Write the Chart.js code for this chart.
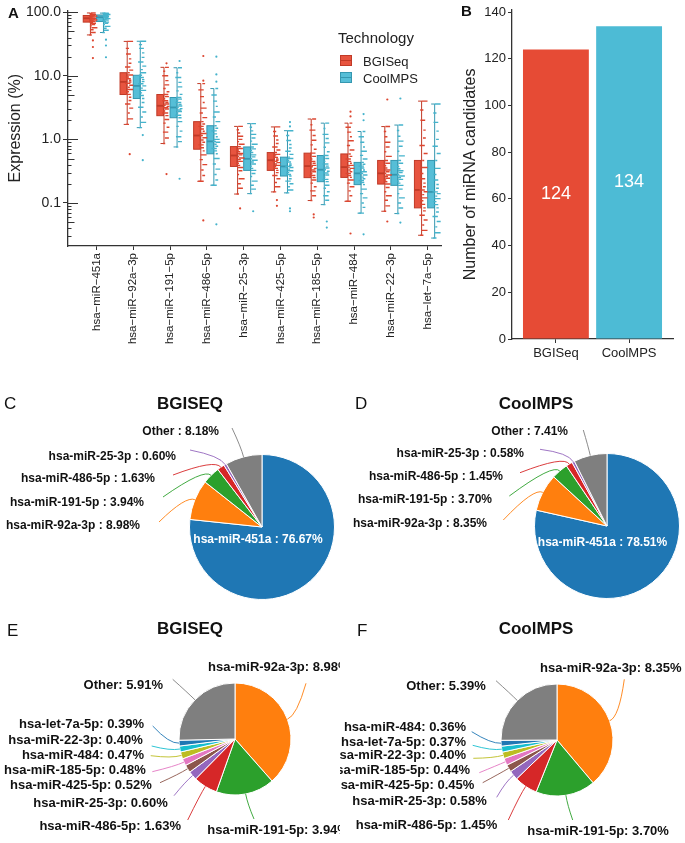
<!DOCTYPE html>
<html>
<head>
<meta charset="utf-8">
<script src="https://cdn.jsdelivr.net/npm/chart.js@4.4.1/dist/chart.umd.min.js"></script>
<style>
  body { margin: 0; background: #fff; }
  #fig { position: relative; width: 685px; height: 843px; background: #fff; overflow: hidden;
         font-family: "Liberation Sans", Arial, sans-serif; color: #222; }
  #fig canvas { position: absolute; }
  .t { position: absolute; white-space: nowrap; line-height: 1; }
</style>
</head>
<body>
<div id="fig">
  <canvas id="boxChart" width="450" height="360" style="left:0;top:0"></canvas>
  <canvas id="barChart" width="245" height="370" style="left:440px;top:0"></canvas>
  <canvas id="pieC" width="340" height="230" style="left:0;top:380px"></canvas>
  <canvas id="pieD" width="345" height="230" style="left:340px;top:380px"></canvas>
  <canvas id="pieE" width="340" height="233" style="left:0;top:610px"></canvas>
  <canvas id="pieF" width="345" height="233" style="left:340px;top:610px"></canvas>
</div>
<script>
// ---------- panel A data ----------
const mirnas = ['hsa−miR−451a', 'hsa−miR−92a−3p', 'hsa−miR−191−5p', 'hsa−miR−486−5p', 'hsa−miR−25−3p',
                'hsa−miR−425−5p', 'hsa−miR−185−5p', 'hsa−miR−484', 'hsa−miR−22−3p', 'hsa−let−7a−5p'];
const technologies = ['BGISeq', 'CoolMPS'];
const yTicksA = [0.1, 1, 10, 100];

// box stats: [lower whisker, q1, median, q3, upper whisker]
const bgiStats = [
  [44, 70, 80.5, 89, 97.5], [1.72, 5.08, 8.03, 11.2, 34.8], [0.86, 2.36, 3.38, 5.08, 13.6],
  [0.219, 0.70, 1.15, 1.90, 7.55], [0.138, 0.375, 0.557, 0.77, 1.60], [0.149, 0.325, 0.47, 0.62, 1.57],
  [0.109, 0.25, 0.38, 0.607, 2.09], [0.106, 0.252, 0.366, 0.59, 1.8], [0.074, 0.198, 0.292, 0.466, 1.59],
  [0.031, 0.0836, 0.16, 0.466, 4.0]
];
const coolStats = [
  [48, 71.5, 83.5, 90.7, 97], [1.53, 4.4, 6.95, 10.2, 35], [0.76, 2.19, 3.18, 4.56, 13.4],
  [0.19, 0.593, 0.93, 1.64, 6.3], [0.14, 0.325, 0.495, 0.76, 1.77], [0.144, 0.265, 0.375, 0.525, 1.37],
  [0.094, 0.216, 0.333, 0.557, 1.8], [0.069, 0.194, 0.292, 0.434, 1.33], [0.068, 0.189, 0.278, 0.466, 1.68],
  [0.028, 0.0836, 0.149, 0.466, 3.6]
];

// per-sample expression (jittered strip)
const bgiSamples = [
  [44, 48, 53, 57, 61, 64, 67, 69, 70.5, 72, 74, 75.5, 77, 78.5, 80, 81, 82.5, 84, 85.5, 87, 88.5, 90, 91.5, 93, 95, 97.5],
  [1.72, 2.1, 2.6, 3.1, 3.6, 4.1, 4.6, 5.1, 5.6, 6.1, 6.6, 7.1, 7.6, 8.0, 8.5, 9.0, 9.6, 10.3, 11.2, 12.3, 13.8, 15.8, 18.5, 22, 27, 34.8],
  [0.86, 1.05, 1.3, 1.55, 1.8, 2.05, 2.36, 2.6, 2.8, 3.0, 3.15, 3.3, 3.45, 3.6, 3.8, 4.05, 4.35, 4.7, 5.08, 5.6, 6.3, 7.2, 8.4, 10, 11.8, 13.6],
  [0.219, 0.27, 0.33, 0.4, 0.48, 0.57, 0.66, 0.74, 0.82, 0.9, 0.98, 1.06, 1.15, 1.24, 1.34, 1.46, 1.6, 1.75, 1.9, 2.2, 2.6, 3.1, 3.8, 4.7, 6, 7.55],
  [0.138, 0.17, 0.2, 0.24, 0.28, 0.32, 0.36, 0.39, 0.42, 0.45, 0.48, 0.51, 0.54, 0.57, 0.6, 0.64, 0.68, 0.72, 0.77, 0.84, 0.92, 1.0, 1.12, 1.26, 1.42, 1.6],
  [0.149, 0.18, 0.21, 0.24, 0.27, 0.3, 0.325, 0.35, 0.37, 0.39, 0.41, 0.43, 0.45, 0.47, 0.49, 0.52, 0.55, 0.58, 0.62, 0.68, 0.76, 0.86, 0.98, 1.13, 1.33, 1.57],
  [0.109, 0.13, 0.155, 0.18, 0.205, 0.23, 0.25, 0.27, 0.29, 0.31, 0.33, 0.35, 0.37, 0.39, 0.42, 0.45, 0.49, 0.54, 0.607, 0.7, 0.82, 0.97, 1.15, 1.4, 1.7, 2.09],
  [0.106, 0.13, 0.155, 0.18, 0.205, 0.23, 0.252, 0.27, 0.29, 0.31, 0.33, 0.35, 0.366, 0.39, 0.42, 0.45, 0.49, 0.54, 0.59, 0.68, 0.8, 0.95, 1.1, 1.3, 1.55, 1.8],
  [0.074, 0.09, 0.11, 0.13, 0.15, 0.175, 0.198, 0.215, 0.23, 0.245, 0.26, 0.275, 0.292, 0.31, 0.33, 0.355, 0.385, 0.42, 0.466, 0.54, 0.64, 0.76, 0.9, 1.1, 1.33, 1.59],
  [0.031, 0.037, 0.045, 0.054, 0.064, 0.075, 0.0836, 0.095, 0.108, 0.12, 0.135, 0.15, 0.16, 0.18, 0.205, 0.24, 0.29, 0.36, 0.466, 0.6, 0.8, 1.05, 1.4, 2.0, 2.9, 4.0]
];
const coolSamples = [
  [48, 52, 56, 60, 64, 67, 70, 71.5, 73.5, 75.5, 77.5, 79.5, 81.5, 83.5, 85, 86.5, 88, 89.5, 90.7, 92, 93, 94, 95, 96, 96.5, 97],
  [1.53, 1.85, 2.25, 2.7, 3.2, 3.8, 4.4, 4.9, 5.4, 5.9, 6.4, 6.95, 7.5, 8.1, 8.7, 9.4, 10.2, 11.2, 12.5, 14.2, 16.5, 19.5, 23, 27, 31, 35],
  [0.76, 0.92, 1.1, 1.35, 1.6, 1.9, 2.19, 2.4, 2.6, 2.75, 2.9, 3.05, 3.18, 3.35, 3.55, 3.8, 4.1, 4.3, 4.56, 5.1, 5.8, 6.7, 7.9, 9.4, 11.2, 13.4],
  [0.19, 0.23, 0.28, 0.34, 0.41, 0.5, 0.593, 0.66, 0.72, 0.78, 0.84, 0.9, 0.93, 1.0, 1.1, 1.22, 1.36, 1.5, 1.64, 1.9, 2.25, 2.7, 3.3, 4.0, 5.0, 6.3],
  [0.14, 0.165, 0.19, 0.22, 0.26, 0.29, 0.325, 0.35, 0.38, 0.41, 0.44, 0.47, 0.495, 0.53, 0.57, 0.62, 0.67, 0.71, 0.76, 0.84, 0.94, 1.05, 1.2, 1.36, 1.55, 1.77],
  [0.144, 0.16, 0.18, 0.2, 0.22, 0.24, 0.265, 0.28, 0.3, 0.32, 0.34, 0.36, 0.375, 0.39, 0.41, 0.44, 0.47, 0.5, 0.525, 0.58, 0.65, 0.73, 0.83, 0.96, 1.15, 1.37],
  [0.094, 0.11, 0.13, 0.15, 0.17, 0.19, 0.216, 0.235, 0.255, 0.275, 0.295, 0.315, 0.333, 0.355, 0.38, 0.41, 0.45, 0.5, 0.557, 0.64, 0.75, 0.88, 1.03, 1.2, 1.48, 1.8],
  [0.069, 0.085, 0.1, 0.12, 0.14, 0.165, 0.194, 0.21, 0.225, 0.24, 0.255, 0.275, 0.292, 0.31, 0.33, 0.355, 0.38, 0.405, 0.434, 0.49, 0.56, 0.65, 0.76, 0.9, 1.1, 1.33],
  [0.068, 0.083, 0.1, 0.12, 0.14, 0.165, 0.189, 0.205, 0.22, 0.235, 0.25, 0.265, 0.278, 0.3, 0.32, 0.345, 0.375, 0.42, 0.466, 0.55, 0.65, 0.78, 0.94, 1.12, 1.38, 1.68],
  [0.028, 0.034, 0.042, 0.051, 0.061, 0.072, 0.0836, 0.094, 0.105, 0.117, 0.128, 0.14, 0.149, 0.17, 0.195, 0.23, 0.28, 0.35, 0.466, 0.6, 0.78, 1.0, 1.35, 1.85, 2.6, 3.6]
];
const bgiOutliers = [[36, 28.4, 19], [0.585], [15.7, 0.284], [8.4, 20.5, 0.053], [0.082], [0.111, 0.09],
                     [0.066, 0.059], [2.3, 2.73, 0.033], [4.24, 0.051], []];
const coolOutliers = [[37, 30, 19.6], [1.17, 0.47], [17.1, 0.24], [8.1, 10.5, 20, 0.046], [0.074],
                      [1.6, 1.87, 0.082, 0.074], [0.051, 0.041], [2.0, 2.5, 0.032], [4.4, 0.049], []];

// ---------- panel B data ----------
const candidates = [124, 134];
const yTicksB = [0, 20, 40, 60, 80, 100, 120, 140];

// ---------- panels C-F data ----------
const topLabels = ['hsa-miR-451a', 'hsa-miR-92a-3p', 'hsa-miR-191-5p', 'hsa-miR-486-5p', 'hsa-miR-25-3p', 'Other'];
const bgiTop = [76.67, 8.98, 3.94, 1.63, 0.60, 8.18];
const coolTop = [78.51, 8.35, 3.70, 1.45, 0.58, 7.41];

const bgiRestLabels = ['hsa-miR-92a-3p', 'hsa-miR-191-5p', 'hsa-miR-486-5p', 'hsa-miR-25-3p', 'hsa-miR-425-5p',
                       'hsa-miR-185-5p', 'hsa-miR-484', 'hsa-miR-22-3p', 'hsa-let-7a-5p', 'Other'];
const bgiRest = [8.98, 3.94, 1.63, 0.60, 0.52, 0.48, 0.47, 0.40, 0.39, 5.91];
const coolRestLabels = ['hsa-miR-92a-3p', 'hsa-miR-191-5p', 'hsa-miR-486-5p', 'hsa-miR-25-3p', 'hsa-miR-425-5p',
                        'hsa-miR-185-5p', 'hsa-miR-22-3p', 'hsa-let-7a-5p', 'hsa-miR-484', 'Other'];
const coolRest = [8.35, 3.70, 1.45, 0.58, 0.45, 0.44, 0.40, 0.37, 0.36, 5.39];

// ---------- styles ----------
const RED = '#E64B35', BLUE = '#4DBBD5';
const tab = { blue: '#1f77b4', orange: '#ff7f0e', green: '#2ca02c', red: '#d62728', purple: '#9467bd',
              brown: '#8c564b', pink: '#e377c2', gray: '#7f7f7f', olive: '#bcbd22', cyan: '#17becf' };
const topColors = [tab.blue, tab.orange, tab.green, tab.red, tab.purple, tab.gray];
const restColors = [tab.orange, tab.green, tab.red, tab.purple, tab.brown, tab.pink, tab.olive, tab.cyan, tab.blue, tab.gray];

Chart.defaults.font.family = '"Liberation Sans", Arial, sans-serif';
Chart.defaults.color = '#333';

const fig = document.getElementById('fig');

function addText(txt, x, y, size, weight, align, color) {
  const d = document.createElement('div');
  d.className = 't';
  d.textContent = txt;
  d.style.left = x + 'px';
  d.style.top = y + 'px';
  d.style.fontSize = size + 'px';
  d.style.fontWeight = weight;
  if (color) d.style.color = color;
  const tx = align === 'center' ? '-50%' : align === 'right' ? '-100%' : '0';
  d.style.transform = `translate(${tx}, -50%)`;
  fig.appendChild(d);
}

function legendIcon(x, y, fill, stroke) {
  const d = document.createElement('div');
  d.style.cssText = `position:absolute;left:${x}px;top:${y}px;width:12px;height:11px;background:${fill};border:1px solid ${stroke};box-sizing:border-box`;
  const m = document.createElement('div');
  m.style.cssText = `position:absolute;left:0;right:0;top:4px;height:1px;background:${stroke}`;
  d.appendChild(m);
  fig.appendChild(d);
}

// ================= Panel A =================
// x layout inside one category (in category units); one category is ~36.8 px wide
const PX_PER_CAT = 36.8;
const groups = [
  { stats: bgiStats, box: [-0.36, -0.18], whisker: -0.165,
    fill: 'rgba(230,75,53,0.95)', stroke: '#c13a27', point: '#dd4630' },
  { stats: coolStats, box: [0.0, 0.185], whisker: 0.19,
    fill: 'rgba(77,187,213,0.95)', stroke: '#3597b0', point: '#45b3cc' }
];
// jitter look: dash half-lengths and small shifts (px), cycled
const dashHalf = [1.2, 2.4, 1.6, 3.0, 1.0, 2.0, 2.7, 1.4];
const dashShift = [-1.0, 0.5, 0.0, 1.0, -0.5, 0.8, 0.2, -0.2];

function stripData(samples, g) {
  const pts = [];
  samples.forEach((vals, i) => vals.forEach((v, k) => {
    const h = dashHalf[k % dashHalf.length], s = dashShift[k % dashShift.length];
    pts.push({ x: i + 1 + g.whisker + (s + h) / PX_PER_CAT, y: v });
  }));
  return pts;
}
function outlierData(outs, g) {
  const pts = [];
  outs.forEach((vals, i) => vals.forEach(v => pts.push({ x: i + 1 + g.whisker + 2.5 / PX_PER_CAT, y: v })));
  return pts;
}

const boxPlugin = {
  id: 'boxes',
  beforeDatasetsDraw(chart) {
    const { ctx, scales: { x, y } } = chart;
    ctx.save();
    groups.forEach(g => {
      g.stats.forEach((s, i) => {
        const c = i + 1;
        const xl = x.getPixelForValue(c + g.box[0]);
        const xr = x.getPixelForValue(c + g.box[1]);
        const xw = x.getPixelForValue(c + g.whisker);
        const [lo, q1, med, q3, hi] = s.map(v => y.getPixelForValue(v));
        ctx.strokeStyle = g.stroke;
        ctx.lineWidth = 1;
        ctx.beginPath();
        ctx.moveTo(xw, lo); ctx.lineTo(xw, hi);
        ctx.moveTo(xw - 3.5, hi); ctx.lineTo(xw, hi);
        ctx.moveTo(xw - 3.5, lo); ctx.lineTo(xw, lo);
        ctx.stroke();
        ctx.fillStyle = g.fill;
        ctx.fillRect(xl, q3, xr - xl, q1 - q3);
        ctx.strokeRect(xl, q3, xr - xl, q1 - q3);
        ctx.lineWidth = 1.8;
        ctx.beginPath();
        ctx.moveTo(xl, med); ctx.lineTo(xr, med);
        ctx.stroke();
      });
    });
    ctx.restore();
  }
};

const logTickPlugin = {
  id: 'logticks',
  afterDraw(chart) {
    const { ctx, chartArea, scales: { y } } = chart;
    ctx.save();
    ctx.strokeStyle = '#333';
    ctx.lineWidth = 1;
    for (let e = -2; e <= 2; e++) {
      for (let m = 1; m <= 9; m++) {
        const v = m * Math.pow(10, e);
        if (v < y.min || v > y.max) continue;
        const len = m === 1 ? 10 : m === 5 ? 6.5 : 3.5;
        const py = Math.round(y.getPixelForValue(v)) + 0.5;
        ctx.beginPath();
        ctx.moveTo(chartArea.left, py);
        ctx.lineTo(chartArea.left + len, py);
        ctx.stroke();
      }
    }
    ctx.restore();
  }
};

new Chart(document.getElementById('boxChart'), {
  type: 'scatter',
  data: {
    datasets: [
      ...groups.map((g, t) => ({
        label: technologies[t],
        data: stripData(t === 0 ? bgiSamples : coolSamples, g),
        pointStyle: 'line',
        pointRadius: c => dashHalf[c.dataIndex % dashHalf.length],
        borderColor: g.point,
        borderWidth: 1.4
      })),
      ...groups.map((g, t) => ({
        label: technologies[t] + ' outliers',
        data: outlierData(t === 0 ? bgiOutliers : coolOutliers, g),
        pointRadius: 1.1,
        backgroundColor: g.point,
        borderWidth: 0
      }))
    ]
  },
  options: {
    responsive: false,
    animation: false,
    devicePixelRatio: 1,
    layout: { padding: { top: 9, right: 9, left: 0, bottom: 0 } },
    plugins: { legend: { display: false }, tooltip: { enabled: false } },
    scales: {
      x: {
        type: 'linear',
        min: 0.226,
        max: 10.362,
        afterBuildTicks: s => { s.ticks = mirnas.map((m, i) => ({ value: i + 1 })); },
        afterFit: s => { s.height = 114; },
        ticks: { callback: v => mirnas[v - 1], minRotation: 90, maxRotation: 90, autoSkip: false,
                 font: { size: 11.5 }, color: '#222', padding: 3 },
        grid: { drawOnChartArea: false, tickLength: 4, color: '#333' },
        border: { color: '#333', width: 1.3 }
      },
      y: {
        type: 'logarithmic',
        min: 0.021,
        max: 107,
        afterBuildTicks: s => { s.ticks = yTicksA.map(v => ({ value: v })); },
        afterFit: s => { s.width = 68; },
        ticks: { callback: v => Number(v).toFixed(1), font: { size: 14 }, color: '#222', padding: 2 },
        grid: { drawOnChartArea: false, tickLength: 5, color: '#333' },
        border: { color: '#333', width: 1.3 },
        title: { display: true, text: 'Expression (%)', font: { size: 16 }, color: '#222', padding: { top: 6, bottom: 0 } }
      }
    }
  },
  plugins: [boxPlugin, logTickPlugin]
});

addText('A', 8, 12, 15, 'bold', 'left', '#111');
addText('Technology', 338, 37, 15, 'normal', 'left', '#222');
legendIcon(340, 55, groups[0].fill, groups[0].stroke);
legendIcon(340, 72, groups[1].fill, groups[1].stroke);
addText('BGISeq', 363, 61, 13, 'normal', 'left', '#222');
addText('CoolMPS', 363, 78, 13, 'normal', 'left', '#222');

// ================= Panel B =================
const barValuePlugin = {
  id: 'barValues',
  afterDatasetsDraw(chart) {
    const { ctx } = chart;
    const meta = chart.getDatasetMeta(0);
    ctx.save();
    ctx.fillStyle = '#fff';
    ctx.font = '18px "Liberation Sans", Arial, sans-serif';
    ctx.textAlign = 'center';
    ctx.textBaseline = 'middle';
    meta.data.forEach((bar, i) => {
      ctx.fillText(String(candidates[i]), bar.x, (bar.y + bar.base) / 2);
    });
    ctx.restore();
  }
};

new Chart(document.getElementById('barChart'), {
  type: 'bar',
  data: {
    datasets: [{
      data: candidates.map((v, i) => ({ x: i + 1, y: v })),
      backgroundColor: [RED, BLUE],
      barPercentage: 0.9,
      categoryPercentage: 1
    }]
  },
  options: {
    responsive: false,
    animation: false,
    devicePixelRatio: 1,
    layout: { padding: { top: 7, right: 12, left: 0, bottom: 0 } },
    plugins: { legend: { display: false }, tooltip: { enabled: false } },
    scales: {
      x: {
        type: 'linear',
        offset: false,
        min: 0.4,
        max: 2.6,
        afterBuildTicks: s => { s.ticks = technologies.map((t, i) => ({ value: i + 1 })); },
        afterFit: s => { s.height = 31; },
        ticks: { callback: v => technologies[v - 1], font: { size: 13 }, color: '#222', padding: 3 },
        grid: { offset: false, drawOnChartArea: false, tickLength: 4, color: '#333' },
        border: { color: '#333', width: 1.3 }
      },
      y: {
        min: 0,
        max: 141,
        afterBuildTicks: s => { s.ticks = yTicksB.map(v => ({ value: v })); },
        afterFit: s => { s.width = 72; },
        ticks: { font: { size: 13 }, color: '#222', padding: 2 },
        grid: { drawOnChartArea: false, tickLength: 4, color: '#333' },
        border: { color: '#333', width: 1.3 },
        title: { display: true, text: 'Number of miRNA candidates', font: { size: 16 }, color: '#222',
                 padding: { top: 21, bottom: 0 } }
      }
    }
  },
  plugins: [barValuePlugin]
});

addText('B', 461, 10, 15, 'bold', 'left', '#111');

// ================= Panels C-F =================
// label layout per slice (canvas px): [textX, textY, align, lineStartX, lineStartY]; no line = inside label
const layoutC = [[258, 160, 'center'], [140, 145.7, 'right', 159, 142], [144, 123, 'right', 163, 117],
                 [155, 99, 'right', 173, 95], [176, 76.7, 'right', 190, 70], [219, 51.7, 'right', 232, 48]];
const layoutD = [[262.5, 162.7, 'center'], [147, 143.3, 'right', 163.3, 140], [152, 120, 'right', 169.3, 116],
                 [163, 96.7, 'right', 180, 92.7], [184, 73.3, 'right', 200, 69.3], [228, 51.7, 'right', 243.3, 50]];
const layoutE = [[208, 57.7, 'left', 306, 73.3], [207.3, 220, 'left', 254, 209], [181, 216.7, 'right', 187.7, 210],
                 [167.7, 193.3, 'right', 174, 185.7], [151.7, 175, 'right', 160, 172.7], [145.7, 160.7, 'right', 152.3, 161.7],
                 [144, 145, 'right', 150.7, 145.7], [142.7, 130.7, 'right', 151.7, 136], [144, 114.3, 'right', 152.7, 116],
                 [163, 75.7, 'right', 172.7, 69.3]];
const layoutF = [[200, 58.3, 'left', 284.3, 69.3], [187.3, 221.7, 'left', 232.7, 210], [157.3, 215.7, 'right', 168.3, 210],
                 [146.7, 191, 'right', 156.7, 187.3], [134.3, 175, 'right', 142.7, 172.7], [130, 160.7, 'right', 139.3, 162.7],
                 [126, 145.7, 'right', 133.3, 148.3], [126, 132.7, 'right', 132.7, 135.3], [126, 117.3, 'right', 131.7, 121.7],
                 [145.7, 76.7, 'right', 156, 70.7]];

function pieLabels(layout, size, sep) {
  return {
    id: 'pieLabels',
    afterDatasetsDraw(chart) {
      const { ctx } = chart;
      const ds = chart.data.datasets[0];
      const meta = chart.getDatasetMeta(0);
      ctx.save();
      ctx.font = `bold ${size}px "Liberation Sans", Arial, sans-serif`;
      ctx.textBaseline = 'middle';
      meta.data.forEach((arc, i) => {
        const L = layout[i];
        const txt = chart.data.labels[i] + sep + ds.data[i].toFixed(2) + '%';
        ctx.textAlign = L[2];
        if (L.length < 5) {
          ctx.fillStyle = '#fff';
          ctx.fillText(txt, L[0], L[1]);
          return;
        }
        const p = arc.getProps(['x', 'y', 'startAngle', 'endAngle', 'outerRadius'], true);
        const mid = (p.startAngle + p.endAngle) / 2;
        const ex = p.x + Math.cos(mid) * p.outerRadius;
        const ey = p.y + Math.sin(mid) * p.outerRadius;
        ctx.strokeStyle = ds.backgroundColor[i];
        ctx.lineWidth = 0.9;
        ctx.beginPath();
        ctx.moveTo(L[3], L[4]);
        ctx.quadraticCurveTo(ex + Math.cos(mid) * 10, ey + Math.sin(mid) * 10, ex, ey);
        ctx.stroke();
        ctx.fillStyle = '#111';
        ctx.fillText(txt, L[0], L[1]);
      });
      ctx.restore();
    }
  };
}

function makePie(id, labels, values, colors, pad, layout, size, sep) {
  new Chart(document.getElementById(id), {
    type: 'pie',
    data: { labels: labels, datasets: [{ data: values, backgroundColor: colors, borderColor: '#fff', borderWidth: 1 }] },
    options: {
      responsive: false,
      animation: false,
      devicePixelRatio: 1,
      layout: { padding: pad },
      plugins: { legend: { display: false }, tooltip: { enabled: false } }
    },
    plugins: [pieLabels(layout, size, sep)]
  });
}

makePie('pieC', topLabels, bgiTop, topColors, { left: 189, top: 74, right: 5, bottom: 10 }, layoutC, 12, ' : ');
makePie('pieD', topLabels, coolTop, topColors, { left: 194, top: 73, right: 5, bottom: 11 }, layoutD, 12, ' : ');
makePie('pieE', bgiRestLabels, bgiRest, restColors, { left: 178.5, top: 72.5, right: 48.5, bottom: 47.5 }, layoutE, 13, ': ');
makePie('pieF', coolRestLabels, coolRest, restColors, { left: 160.5, top: 73.5, right: 71.5, bottom: 46.5 }, layoutF, 13, ': ');

addText('C', 4, 403, 17, 'normal', 'left', '#111');
addText('BGISEQ', 190, 403, 17, 'bold', 'center', '#111');
addText('D', 355, 403, 17, 'normal', 'left', '#111');
addText('CoolMPS', 536, 403, 17, 'bold', 'center', '#111');
addText('E', 7, 630, 17, 'normal', 'left', '#111');
addText('BGISEQ', 190, 628, 17, 'bold', 'center', '#111');
addText('F', 357, 630, 17, 'normal', 'left', '#111');
addText('CoolMPS', 536, 628, 17, 'bold', 'center', '#111');
</script>
</body>
</html>
